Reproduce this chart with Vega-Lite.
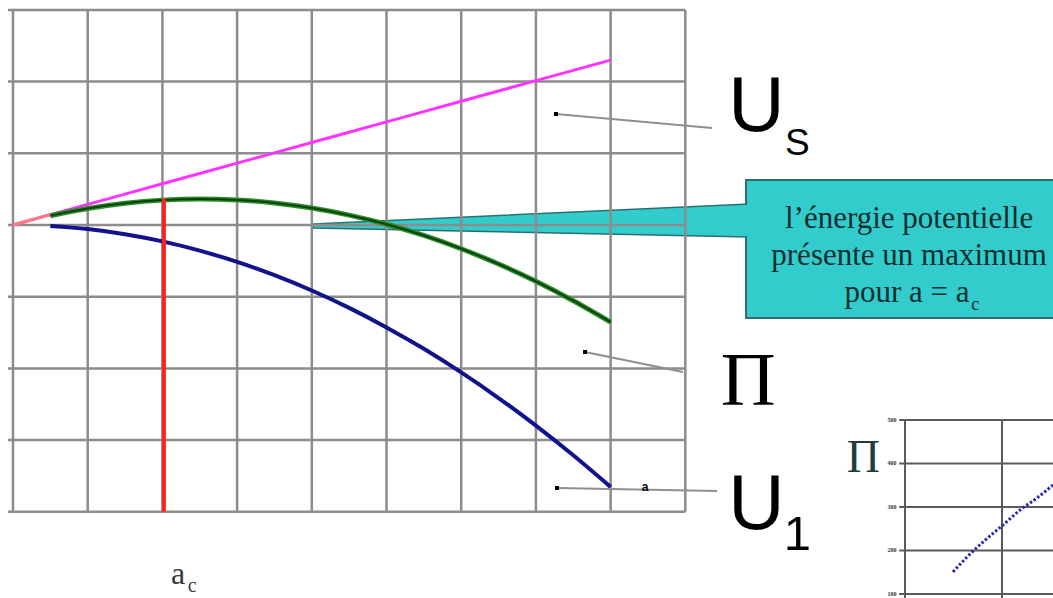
{
  "$schema": "https://vega.github.io/schema/vega-lite/v6.json",
  "width": 1053,
  "height": 598,
  "autosize": {"type": "none"},
  "padding": 0,
  "background": "white",
  "config": {"view": {"stroke": null}},
  "datasets": {
    "curves": [
      {"a": 0, "Us": 0, "Pi": null, "U1": null},
      {"a": 0.5, "Us": 0.144, "Pi": 0.130, "U1": -0.014},
      {"a": 1, "Us": 0.288, "Pi": 0.230, "U1": -0.057},
      {"a": 1.5, "Us": 0.431, "Pi": 0.303, "U1": -0.129},
      {"a": 2, "Us": 0.575, "Pi": 0.347, "U1": -0.228},
      {"a": 2.5, "Us": 0.719, "Pi": 0.362, "U1": -0.357},
      {"a": 3, "Us": 0.863, "Pi": 0.349, "U1": -0.514},
      {"a": 3.5, "Us": 1.006, "Pi": 0.307, "U1": -0.700},
      {"a": 4, "Us": 1.150, "Pi": 0.236, "U1": -0.914},
      {"a": 4.5, "Us": 1.294, "Pi": 0.137, "U1": -1.156},
      {"a": 5, "Us": 1.438, "Pi": 0.010, "U1": -1.428},
      {"a": 5.5, "Us": 1.581, "Pi": -0.146, "U1": -1.727},
      {"a": 6, "Us": 1.725, "Pi": -0.331, "U1": -2.056},
      {"a": 6.5, "Us": 1.869, "Pi": -0.544, "U1": -2.413},
      {"a": 7, "Us": 2.013, "Pi": -0.785, "U1": -2.798},
      {"a": 7.5, "Us": 2.156, "Pi": -1.056, "U1": -3.212},
      {"a": 8, "Us": 2.300, "Pi": -1.354, "U1": -3.654}
    ],
    "grid": [
      {"x0": 0, "x1": 0, "y0": -4, "y1": 3},
      {"x0": 1, "x1": 1, "y0": -4, "y1": 3},
      {"x0": 2, "x1": 2, "y0": -4, "y1": 3},
      {"x0": 3, "x1": 3, "y0": -4, "y1": 3},
      {"x0": 4, "x1": 4, "y0": -4, "y1": 3},
      {"x0": 5, "x1": 5, "y0": -4, "y1": 3},
      {"x0": 6, "x1": 6, "y0": -4, "y1": 3},
      {"x0": 7, "x1": 7, "y0": -4, "y1": 3},
      {"x0": 8, "x1": 8, "y0": -4, "y1": 3},
      {"x0": 9, "x1": 9, "y0": -4, "y1": 3},
      {"x0": -0.067, "x1": 9, "y0": -4, "y1": -4},
      {"x0": -0.067, "x1": 9, "y0": -3, "y1": -3},
      {"x0": -0.067, "x1": 9, "y0": -2, "y1": -2},
      {"x0": -0.067, "x1": 9, "y0": -1, "y1": -1},
      {"x0": -0.067, "x1": 9, "y0": 0, "y1": 0},
      {"x0": -0.067, "x1": 9, "y0": 1, "y1": 1},
      {"x0": -0.067, "x1": 9, "y0": 2, "y1": 2},
      {"x0": -0.067, "x1": 9, "y0": 3, "y1": 3}
    ],
    "leaders": [
      {"x0": 7.269, "y0": 1.548, "x1": 9.357, "y1": 1.353},
      {"x0": 7.657, "y0": -1.771, "x1": 8.969, "y1": -2.050},
      {"x0": 7.282, "y0": -3.668, "x1": 9.424, "y1": -3.710}
    ],
    "insetGrid": [
      {"x0": -0.06, "x1": 1.6, "y0": 100, "y1": 100},
      {"x0": -0.06, "x1": 1.6, "y0": 200, "y1": 200},
      {"x0": -0.06, "x1": 1.6, "y0": 300, "y1": 300},
      {"x0": -0.06, "x1": 1.6, "y0": 400, "y1": 400},
      {"x0": -0.06, "x1": 1.6, "y0": 500, "y1": 500},
      {"x0": 0, "x1": 0, "y0": 500, "y1": 80},
      {"x0": 1, "x1": 1, "y0": 500, "y1": 80}
    ],
    "insetCurve": [
      {"a": 0.495, "Pi": 150.6},
      {"a": 0.639, "Pi": 185},
      {"a": 0.804, "Pi": 219.5},
      {"a": 1.01, "Pi": 258.6},
      {"a": 1.186, "Pi": 293},
      {"a": 1.361, "Pi": 320.7},
      {"a": 1.526, "Pi": 350.6}
    ]
  },
  "layer": [
    {
      "layer": [
        {
          "data": {"values": [
            {"a": 4.016, "top": 0.014, "bottom": -0.042},
            {"a": 9.85, "top": 0.293, "bottom": -0.167}
          ]},
          "mark": {"type": "area", "fill": "#33cccc", "stroke": "#2b6f6f", "strokeWidth": 1.5},
          "encoding": {
            "x": {"field": "a", "type": "quantitative", "scale": {"domain": [-0.174, 13.922], "nice": false, "zero": false}, "axis": null},
            "y": {"field": "top", "type": "quantitative", "scale": {"domain": [-5.202, 3.138], "nice": false, "zero": false}, "axis": null},
            "y2": {"field": "bottom"}
          }
        },
        {
          "data": {"name": "grid"},
          "mark": {"type": "rule", "color": "#8c8c8c", "strokeWidth": 2.5},
          "encoding": {
            "x": {"field": "x0", "type": "quantitative", "axis": null},
            "x2": {"field": "x1"},
            "y": {"field": "y0", "type": "quantitative", "axis": null},
            "y2": {"field": "y1"}
          }
        },
        {
          "data": {"name": "curves"},
          "mark": {"type": "line", "color": "#ff33ff", "strokeWidth": 3},
          "encoding": {
            "x": {"field": "a", "type": "quantitative", "axis": null},
            "y": {"field": "Us", "type": "quantitative", "axis": null}
          }
        },
        {
          "data": {"name": "curves"},
          "transform": [{"filter": "datum.a <= 0.5"}],
          "mark": {"type": "line", "color": "#ff7a7a", "strokeWidth": 3},
          "encoding": {
            "x": {"field": "a", "type": "quantitative", "axis": null},
            "y": {"field": "Us", "type": "quantitative", "axis": null}
          }
        },
        {
          "data": {"name": "curves"},
          "mark": {"type": "line", "color": "#2e8b2e", "strokeWidth": 5, "interpolate": "monotone"},
          "encoding": {
            "x": {"field": "a", "type": "quantitative", "axis": null},
            "y": {"field": "Pi", "type": "quantitative", "axis": null}
          }
        },
        {
          "data": {"name": "curves"},
          "mark": {"type": "line", "color": "#064406", "strokeWidth": 2, "interpolate": "monotone"},
          "encoding": {
            "x": {"field": "a", "type": "quantitative", "axis": null},
            "y": {"field": "Pi", "type": "quantitative", "axis": null}
          }
        },
        {
          "data": {"name": "curves"},
          "mark": {"type": "line", "color": "#12128c", "strokeWidth": 4, "interpolate": "monotone"},
          "encoding": {
            "x": {"field": "a", "type": "quantitative", "axis": null},
            "y": {"field": "U1", "type": "quantitative", "axis": null}
          }
        },
        {
          "data": {"values": [{"ac": 2.02, "low": -4, "high": 0.37}]},
          "mark": {"type": "rule", "color": "#ff2020", "strokeWidth": 4},
          "encoding": {
            "x": {"field": "ac", "type": "quantitative", "axis": null},
            "y": {"field": "low", "type": "quantitative", "axis": null},
            "y2": {"field": "high"}
          }
        },
        {
          "data": {"name": "leaders"},
          "mark": {"type": "rule", "color": "#8f8f8f", "strokeWidth": 2},
          "encoding": {
            "x": {"field": "x0", "type": "quantitative", "axis": null},
            "x2": {"field": "x1"},
            "y": {"field": "y0", "type": "quantitative", "axis": null},
            "y2": {"field": "y1"}
          }
        },
        {
          "data": {"name": "leaders"},
          "mark": {"type": "point", "shape": "square", "filled": true, "color": "#000000", "size": 16, "opacity": 1},
          "encoding": {
            "x": {"field": "x0", "type": "quantitative", "axis": null},
            "y": {"field": "y0", "type": "quantitative", "axis": null}
          }
        },
        {
          "data": {"values": [{"x0": 9.813, "x1": 14.2, "y0": 0.628, "y1": -1.297}]},
          "mark": {"type": "rect", "fill": "#33cccc", "stroke": "#2f6b6b", "strokeWidth": 2, "clip": true},
          "encoding": {
            "x": {"field": "x0", "type": "quantitative", "axis": null},
            "x2": {"field": "x1"},
            "y": {"field": "y0", "type": "quantitative", "axis": null},
            "y2": {"field": "y1"}
          }
        },
        {
          "data": {"values": [{"x0": 9.76, "x1": 9.9, "y0": 0.279, "y1": -0.153}]},
          "mark": {"type": "rect", "fill": "#33cccc"},
          "encoding": {
            "x": {"field": "x0", "type": "quantitative", "axis": null},
            "x2": {"field": "x1"},
            "y": {"field": "y0", "type": "quantitative", "axis": null},
            "y2": {"field": "y1"}
          }
        },
        {
          "data": {"values": [
            {"x": 11.995, "y": -0.042, "t": "l’énergie potentielle"},
            {"x": 11.995, "y": -0.558, "t": "présente un maximum"},
            {"x": 11.968, "y": -1.074, "t": "pour a = a"}
          ]},
          "mark": {"type": "text", "font": "Liberation Serif", "fontSize": 31, "align": "center", "baseline": "alphabetic", "color": "#102e2e"},
          "encoding": {
            "x": {"field": "x", "type": "quantitative", "axis": null},
            "y": {"field": "y", "type": "quantitative", "axis": null},
            "text": {"field": "t"}
          }
        },
        {
          "data": {"values": [{"x": 12.88, "y": -1.185, "t": "c"}]},
          "mark": {"type": "text", "font": "Liberation Serif", "fontSize": 18, "align": "center", "baseline": "alphabetic", "color": "#102e2e"},
          "encoding": {
            "x": {"field": "x", "type": "quantitative", "axis": null},
            "y": {"field": "y", "type": "quantitative", "axis": null},
            "text": {"field": "t"}
          }
        },
        {
          "data": {"values": [
            {"x": 9.953, "y": 1.311, "t": "U"},
            {"x": 9.953, "y": -4.24, "t": "U"}
          ]},
          "mark": {"type": "text", "font": "Liberation Sans", "fontSize": 78, "align": "center", "baseline": "alphabetic", "color": "#000000"},
          "encoding": {
            "x": {"field": "x", "type": "quantitative", "axis": null},
            "y": {"field": "y", "type": "quantitative", "axis": null},
            "text": {"field": "t"}
          }
        },
        {
          "data": {"values": [{"x": 10.5, "y": 0.976, "t": "S"}]},
          "mark": {"type": "text", "font": "Liberation Sans", "fontSize": 37, "align": "center", "baseline": "alphabetic", "color": "#000000"},
          "encoding": {
            "x": {"field": "x", "type": "quantitative", "axis": null},
            "y": {"field": "y", "type": "quantitative", "axis": null},
            "text": {"field": "t"}
          }
        },
        {
          "data": {"values": [{"x": 10.5, "y": -4.533, "t": "1"}]},
          "mark": {"type": "text", "font": "Liberation Sans", "fontSize": 49, "align": "center", "baseline": "alphabetic", "color": "#000000"},
          "encoding": {
            "x": {"field": "x", "type": "quantitative", "axis": null},
            "y": {"field": "y", "type": "quantitative", "axis": null},
            "text": {"field": "t"}
          }
        },
        {
          "data": {"values": [{"x": 9.84, "y": -2.51, "t": "Π"}]},
          "mark": {"type": "text", "font": "Liberation Serif", "fontSize": 76, "align": "center", "baseline": "alphabetic", "color": "#000000"},
          "encoding": {
            "x": {"field": "x", "type": "quantitative", "axis": null},
            "y": {"field": "y", "type": "quantitative", "axis": null},
            "text": {"field": "t"}
          }
        },
        {
          "data": {"values": [{"x": 2.21, "y": -5.0, "t": "a"}]},
          "mark": {"type": "text", "font": "Liberation Serif", "fontSize": 32, "align": "center", "baseline": "alphabetic", "color": "#3a3a3a"},
          "encoding": {
            "x": {"field": "x", "type": "quantitative", "axis": null},
            "y": {"field": "y", "type": "quantitative", "axis": null},
            "text": {"field": "t"}
          }
        },
        {
          "data": {"values": [{"x": 2.4, "y": -5.12, "t": "c"}]},
          "mark": {"type": "text", "font": "Liberation Serif", "fontSize": 20, "align": "center", "baseline": "alphabetic", "color": "#3a3a3a"},
          "encoding": {
            "x": {"field": "x", "type": "quantitative", "axis": null},
            "y": {"field": "y", "type": "quantitative", "axis": null},
            "text": {"field": "t"}
          }
        },
        {
          "data": {"values": [{"x": 8.461, "y": -3.71, "t": "a"}]},
          "mark": {"type": "text", "font": "Liberation Sans", "fontSize": 12, "fontWeight": "bold", "align": "center", "baseline": "alphabetic", "color": "#000000"},
          "encoding": {
            "x": {"field": "x", "type": "quantitative", "axis": null},
            "y": {"field": "y", "type": "quantitative", "axis": null},
            "text": {"field": "t"}
          }
        }
      ]
    },
    {
      "layer": [
        {
          "data": {"name": "insetGrid"},
          "mark": {"type": "rule", "color": "#5a5a5a", "strokeWidth": 2, "clip": true},
          "encoding": {
            "x": {"field": "x0", "type": "quantitative", "scale": {"domain": [-9.33, 1.526], "nice": false, "zero": false}, "axis": null},
            "x2": {"field": "x1"},
            "y": {"field": "y0", "type": "quantitative", "scale": {"domain": [90.8, 1465.5], "nice": false, "zero": false}, "axis": null},
            "y2": {"field": "y1"}
          }
        },
        {
          "data": {"name": "insetCurve"},
          "mark": {"type": "line", "color": "#2a2ab5", "strokeWidth": 3, "strokeDash": [2.5, 2], "interpolate": "monotone"},
          "encoding": {
            "x": {"field": "a", "type": "quantitative", "axis": null},
            "y": {"field": "Pi", "type": "quantitative", "axis": null}
          }
        },
        {
          "data": {"values": [
            {"x": -0.134, "y": 500, "t": "500"},
            {"x": -0.134, "y": 400, "t": "400"},
            {"x": -0.134, "y": 300, "t": "300"},
            {"x": -0.134, "y": 200, "t": "200"},
            {"x": -0.134, "y": 100, "t": "100"}
          ]},
          "mark": {"type": "text", "font": "Liberation Serif", "fontSize": 6, "fontWeight": "bold", "align": "center", "baseline": "middle", "color": "#333333"},
          "encoding": {
            "x": {"field": "x", "type": "quantitative", "axis": null},
            "y": {"field": "y", "type": "quantitative", "axis": null},
            "text": {"field": "t"}
          }
        },
        {
          "data": {"values": [{"x": -0.43, "y": 380.5, "t": "Π"}]},
          "mark": {"type": "text", "font": "Liberation Serif", "fontSize": 46, "align": "center", "baseline": "alphabetic", "color": "#203c3c"},
          "encoding": {
            "x": {"field": "x", "type": "quantitative", "axis": null},
            "y": {"field": "y", "type": "quantitative", "axis": null},
            "text": {"field": "t"}
          }
        }
      ]
    }
  ],
  "resolve": {"scale": {"x": "independent", "y": "independent"}}
}
